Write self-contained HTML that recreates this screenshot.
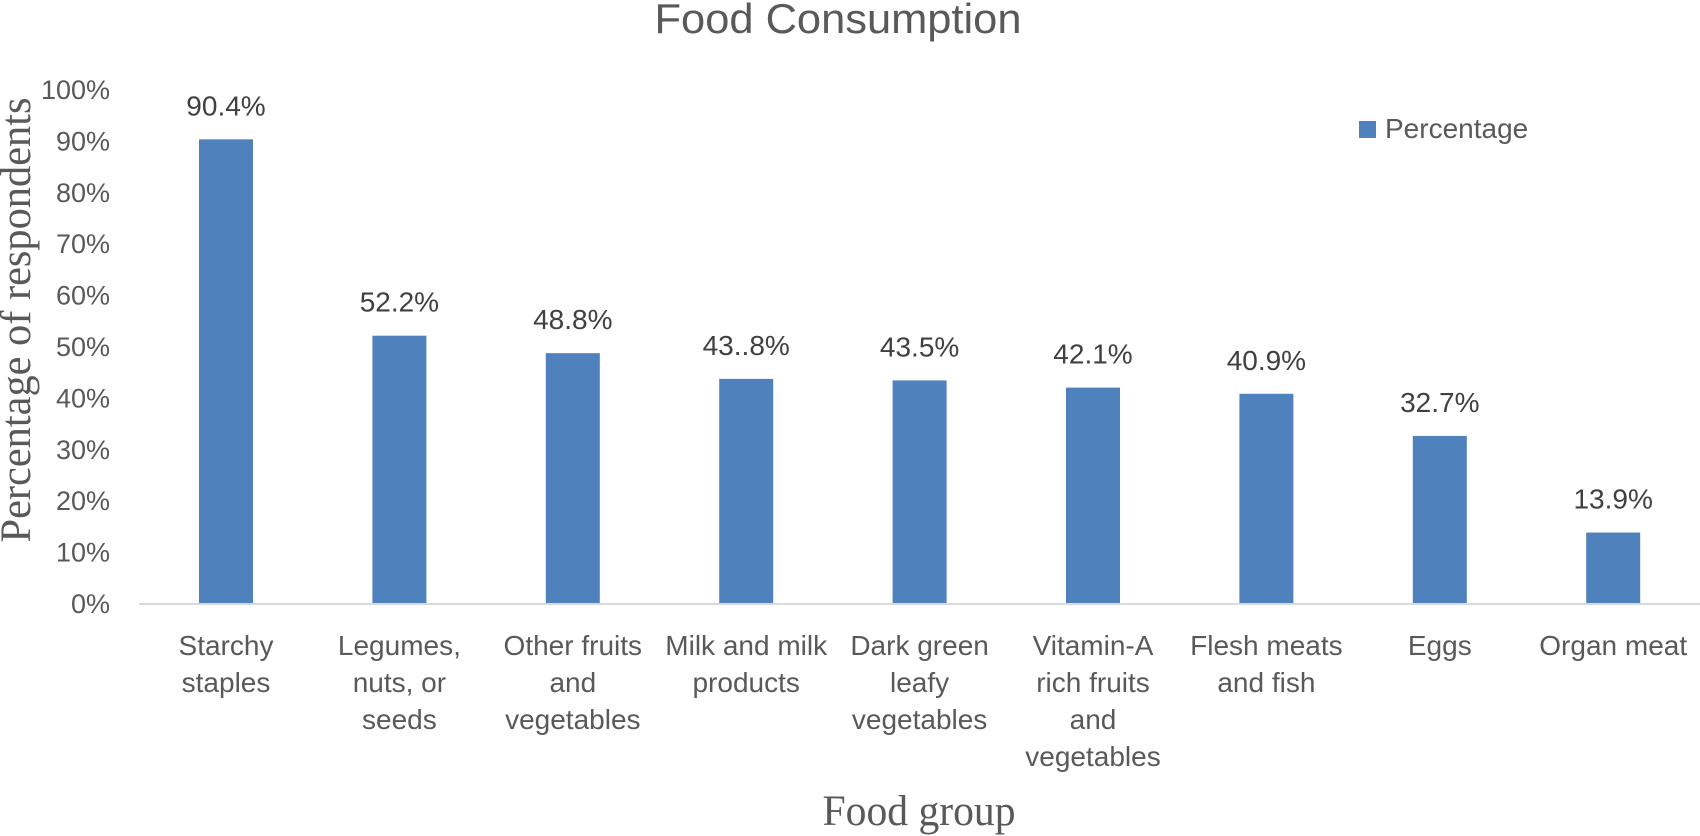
<!DOCTYPE html>
<html><head><meta charset="utf-8"><style>
html,body{margin:0;padding:0;background:#fff;}
svg{display:block;}
</style></head><body>
<svg id="chart" width="1700" height="836" viewBox="0 0 1700 836" xmlns="http://www.w3.org/2000/svg">
<text x="838" y="33" text-anchor="middle" font-family="Liberation Sans, sans-serif" font-size="42" fill="#595959" textLength="367" lengthAdjust="spacingAndGlyphs">Food Consumption</text>
<text transform="translate(30,320) rotate(-90)" text-anchor="middle" font-family="Liberation Serif, serif" font-size="43" fill="#595959" textLength="445" lengthAdjust="spacingAndGlyphs">Percentage of respondents</text>
<text x="919" y="825" text-anchor="middle" font-family="Liberation Serif, serif" font-size="43" fill="#595959" textLength="193" lengthAdjust="spacingAndGlyphs">Food group</text>
<g>
<rect x="1359" y="121" width="17" height="17" fill="#4f81bd"></rect>
<text x="1385" y="138" font-family="Liberation Sans, sans-serif" font-size="28" fill="#595959">Percentage</text>
</g>
<g id="ticks"></g>
<g id="bars"></g>
<g id="labels"></g>
<line x1="139" y1="604" x2="1700" y2="604" stroke="#d9d9d9" stroke-width="2"></line>
</svg>
<script>
const categories = [["Starchy","staples"],["Legumes,","nuts, or","seeds"],["Other fruits","and","vegetables"],["Milk and milk","products"],["Dark green","leafy","vegetables"],["Vitamin-A","rich fruits","and","vegetables"],["Flesh meats","and fish"],["Eggs"],["Organ meat"]];
const values = [90.4, 52.2, 48.8, 43.8, 43.5, 42.1, 40.9, 32.7, 13.9];
const valueLabels = ["90.4%","52.2%","48.8%","43..8%","43.5%","42.1%","40.9%","32.7%","13.9%"];
const tickValues = [0,10,20,30,40,50,60,70,80,90,100];
const tickLabels = ["0%","10%","20%","30%","40%","50%","60%","70%","80%","90%","100%"];

const NS = "http://www.w3.org/2000/svg";
const y0 = 604, y100 = 90, left = 139.3, band = 173.4, barW = 54;
function yScale(v){ return y0 - (y0 - y100) * v / 100; }
function xCenter(i){ return left + band * (i + 0.5); }

const ticksG = document.getElementById('ticks');
tickValues.forEach((t, i) => {
  const el = document.createElementNS(NS, 'text');
  el.setAttribute('x', 110);
  el.setAttribute('y', yScale(t) + 9);
  el.setAttribute('text-anchor', 'end');
  el.setAttribute('font-family', 'Liberation Sans, sans-serif');
  el.setAttribute('font-size', '27');
  el.setAttribute('fill', '#595959');
  el.textContent = tickLabels[i];
  
  
  ticksG.appendChild(el);
});

const barsG = document.getElementById('bars');
const labelsG = document.getElementById('labels');
values.forEach((v, i) => {
  const cx = xCenter(i);
  const r = document.createElementNS(NS, 'rect');
  r.setAttribute('x', cx - barW / 2);
  r.setAttribute('y', yScale(v));
  r.setAttribute('width', barW);
  r.setAttribute('height', y0 - yScale(v));
  r.setAttribute('fill', '#4f81bd');
  
  
  barsG.appendChild(r);

  const t = document.createElementNS(NS, 'text');
  t.setAttribute('x', cx);
  t.setAttribute('y', yScale(v) - 24);
  t.setAttribute('text-anchor', 'middle');
  t.setAttribute('font-family', 'Liberation Sans, sans-serif');
  t.setAttribute('font-size', '28');
  t.setAttribute('fill', '#404040');
  t.textContent = valueLabels[i];
  
  
  labelsG.appendChild(t);

  categories[i].forEach((line, j) => {
    const c = document.createElementNS(NS, 'text');
    c.setAttribute('x', cx);
    c.setAttribute('y', 655 + j * 37);
    c.setAttribute('text-anchor', 'middle');
    c.setAttribute('font-family', 'Liberation Sans, sans-serif');
    c.setAttribute('font-size', '28');
    c.setAttribute('fill', '#595959');
    c.textContent = line;
    
    
    labelsG.appendChild(c);
  });
});
</script>
</body></html>
